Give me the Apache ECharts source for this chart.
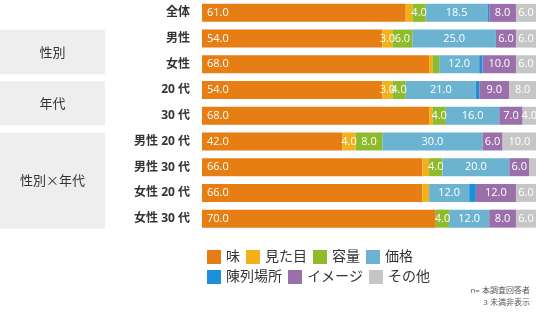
<!DOCTYPE html>
<html><head><meta charset="utf-8">
<script src="https://cdn.jsdelivr.net/npm/echarts@6/dist/echarts.min.js"></script>
<style>html,body{margin:0;padding:0;background:#fff}#c{width:536px;height:336px}</style>
</head><body><div id="c"></div>
<script>
const categories = ['全体','男性','女性','20 代','30 代','男性 20 代','男性 30 代','女性 20 代','女性 30 代'];
const seriesNames = ['味','見た目','容量','価格','陳列場所','イメージ','その他'];
const taste   = [61, 54, 68, 54, 68, 42, 66, 66, 70];
const looks   = [2, 3, 1, 3, 1, 4, 2, 2, 0];
const volume  = [4, 6, 2, 4, 4, 8, 4, 0, 4];
const price   = [18.5, 25, 12, 21, 16, 30, 20, 12, 12];
const place   = [0.5, 0, 1, 1, 0, 0, 0, 2, 0];
const image   = [8, 6, 10, 9, 7, 6, 6, 12, 8];
const other   = [6, 6, 6, 8, 4, 10, 2, 6, 6];
const groups = [
  {name:'性別', from:1, to:2},
  {name:'年代', from:3, to:4},
  {name:'性別×年代', from:5, to:8}
];
const notes = ['n= 本調査回答者', '3 未満非表示'];
const colors = ['#E67E13','#F2B11B','#8DBB2B','#6BB3D1','#1E90D9','#9B6FAA','#C6C6C6'];
const allData = [taste, looks, volume, price, place, image, other];

const chart = echarts.init(document.getElementById('c'));
const font = '"Open Sans","Noto Sans CJK JP",sans-serif';
const cjkFont = '"Noto Sans CJK JP",sans-serif';
const series = allData.map((d, i) => ({
  name: seriesNames[i],
  type: 'bar',
  stack: 'total',
  data: d,
  barWidth: 18,
  itemStyle: {color: colors[i]},
  label: {
    show: true,
    position: i === 0 ? 'insideLeft' : 'inside',
    distance: 5,
    color: '#fff',
    fontSize: 11,
    fontFamily: font,
    formatter: p => p.value >= 3 ? p.value.toFixed(1) : ''
  },
  emphasis: {disabled: true}
}));

chart.setOption({
  animation: false,
  textStyle: {fontFamily: font},
  grid: {left: 202, right: 0, top: 0, height: 231.5, containLabel: false},
  xAxis: {type: 'value', min: 0, max: 100, show: false},
  yAxis: {
    type: 'category', data: categories, inverse: true,
    axisLine: {show: false}, axisTick: {show: false},
    axisLabel: {color: '#333', fontSize: 12, fontWeight: 'bold', margin: 12, fontFamily: font}
  },
  legend: {
    left: 202, top: 245, orient: 'horizontal',
    itemWidth: 14, itemHeight: 14, itemGap: 6,
    icon: 'rect',
    textStyle: {fontSize: 14, color: '#333', fontFamily: font},
    data: ['味','見た目','容量','価格','','陳列場所','イメージ','その他']
  },
  series: series
});

function drawGraphics() {
  const els = [];
  const half = (chart.convertToPixel({yAxisIndex: 0}, categories[1]) - chart.convertToPixel({yAxisIndex: 0}, categories[0])) / 2;
  groups.forEach(g => {
    const y1 = chart.convertToPixel({yAxisIndex: 0}, categories[g.from]);
    const y2 = chart.convertToPixel({yAxisIndex: 0}, categories[g.to]);
    const top = y1 - half + 4, bot = y2 + half - 3;
    els.push({type: 'rect', shape: {x: 0, y: top, width: 105, height: bot - top}, style: {fill: '#EEEEEE'}, z: -1});
    els.push({type: 'text', x: 52.5, y: (top + bot) / 2, style: {text: g.name, fill: '#333', font: '13px ' + cjkFont, align: 'center', verticalAlign: 'middle'}});
  });
  els.push({type: 'text', right: 6, top: 287, style: {text: notes[0], fill: '#555', font: '8px ' + font, align: 'right'}});
  els.push({type: 'text', right: 6, top: 299, style: {text: notes[1], fill: '#555', font: '8px ' + font, align: 'right'}});
  chart.setOption({graphic: els});
}
drawGraphics();
</script></body></html>
